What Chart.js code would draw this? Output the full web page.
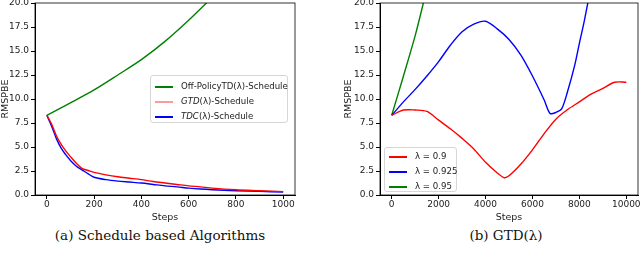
<!DOCTYPE html>
<html lang="en">
<head>
<meta charset="UTF-8">
<title>RMSPBE</title>
<script src="https://cdn.jsdelivr.net/npm/chart.js"></script>
<style>
    body { margin: 0; background: #fff; width: 640px; height: 266px; overflow: hidden; position: relative; font-family: "DejaVu Sans", sans-serif; }
    .plot { position: absolute; top: 0; height: 223px; }
    .caption { position: absolute; top: 227px; font-family: "DejaVu Serif", "Liberation Serif", serif; font-size: 13.5px; color: #111; text-align: center; }
    .legend { position: absolute; background: rgba(255,255,255,0.85); border: 1px solid #d6d6d6; border-radius: 3px; font-size: 8.6px; color: #222; padding: 3px 4px 2px 4px; box-sizing: border-box; }
    .legend div { height: 15px; line-height: 15px; white-space: nowrap; }
    .legend span.sw { display: inline-block; width: 18px; height: 2px; vertical-align: middle; margin-right: 8px; }
</style>
</head>
<body>
<div class="plot" style="left:0; width:300px;"><canvas id="chartA"></canvas></div>
<div class="plot" style="left:343px; width:297px;"><canvas id="chartB"></canvas></div>

<div class="legend" style="left:150px; top:75px; width:138px; height:48px;">
    <div><span class="sw" style="background:#008000"></span>Off-PolicyTD(λ)-Schedule</div>
    <div><span class="sw" style="background:#ff9a9a"></span><i>GTD</i>(λ)-Schedule</div>
    <div><span class="sw" style="background:#0000ff"></span><i>TDC</i>(λ)-Schedule</div>
</div>
<div class="legend" style="left:384px; top:147px; width:73px; height:45px; padding-top:1px;">
    <div><span class="sw" style="background:#ff0000"></span>λ = 0.9</div>
    <div><span class="sw" style="background:#0000ff"></span>λ = 0.925</div>
    <div><span class="sw" style="background:#008000"></span>λ = 0.95</div>
</div>

<div class="caption" style="left:40px; width:240px;">(a) Schedule based Algorithms</div>
<div class="caption" style="left:446px; width:120px;">(b) GTD(λ)</div>

<script>
// (a) schedule based algorithms
const offSteps = [0, 100, 200, 300, 400, 500, 600, 700];
const offValues = [8.3, 9.6, 10.95, 12.5, 14.1, 16.0, 18.2, 20.6];
const gtdSteps = [0, 20, 40, 60, 80, 100, 125, 150, 175, 200, 250, 300, 350, 400, 450, 500, 550, 600, 650, 700, 800, 900, 1000];
const gtdValues = [8.3, 7.4, 6.2, 5.3, 4.6, 4.0, 3.3, 2.75, 2.55, 2.35, 2.1, 1.9, 1.75, 1.6, 1.4, 1.25, 1.1, 0.95, 0.85, 0.72, 0.55, 0.45, 0.35];
const tdcSteps = gtdSteps;
const tdcValues = [8.3, 7.2, 5.9, 4.9, 4.2, 3.6, 3.0, 2.6, 2.2, 1.85, 1.6, 1.45, 1.35, 1.25, 1.1, 0.95, 0.85, 0.72, 0.62, 0.55, 0.45, 0.38, 0.3];

// (b) GTD(lambda)
const lam90Steps = [0, 500, 1000, 1500, 2000, 2500, 3000, 3500, 4000, 4500, 4800, 5000, 5500, 6000, 6500, 7000, 7500, 8000, 8500, 9000, 9500, 10000];
const lam90Values = [8.3, 8.85, 8.85, 8.7, 7.8, 6.9, 5.9, 4.8, 3.4, 2.3, 1.8, 2.0, 3.2, 4.7, 6.4, 7.9, 8.9, 9.7, 10.5, 11.1, 11.75, 11.75];
const lam925Steps = [0, 500, 1000, 1500, 2000, 2500, 3000, 3500, 4000, 4500, 5000, 5500, 6000, 6500, 6750, 7000, 7250, 7500, 7800, 8000, 8200, 8400];
const lam925Values = [8.3, 9.7, 11.0, 12.4, 13.9, 15.6, 17.0, 17.8, 18.1, 17.3, 16.2, 14.6, 12.4, 9.9, 8.5, 8.6, 9.0, 10.8, 13.5, 15.8, 18.0, 20.5];
const lam95Steps = [0, 500, 1000, 1400];
const lam95Values = [8.3, 12.4, 16.6, 20.5];

const yTicks = [0, 2.5, 5, 7.5, 10, 12.5, 15, 17.5, 20];

function pts(xs, ys) { return xs.map((x, i) => ({ x: x, y: ys[i] })); }

const frame = {
    id: 'frame',
    afterDraw(chart) {
        const a = chart.chartArea, c = chart.ctx;
        c.save();
        c.strokeStyle = '#000';
        c.lineWidth = 0.8;
        c.strokeRect(a.left, a.top, a.right - a.left, a.bottom - a.top);
        c.restore();
    }
};

function makeChart(id, datasets, xmin, xmax, xstep, yWidth, padRight) {
    return new Chart(document.getElementById(id), {
        type: 'line',
        data: { datasets: datasets },
        options: {
            responsive: true,
            maintainAspectRatio: false,
            animation: false,
            layout: { padding: { top: 3, right: padRight, left: 0, bottom: 0 } },
            elements: { point: { radius: 0 }, line: { borderWidth: 1.4, tension: 0.3 } },
            plugins: { legend: { display: false }, tooltip: { enabled: false } },
            scales: {
                x: {
                    type: 'linear', min: xmin, max: xmax,
                    afterBuildTicks: s => { s.ticks = []; for (let v = 0; v <= xmax; v += xstep) s.ticks.push({ value: v }); },
                    afterFit: s => { s.height = 28; s.paddingLeft = 0; s.paddingRight = 0; },
                    grid: { drawOnChartArea: false, tickLength: 4, color: '#000' },
                    border: { color: '#000' },
                    ticks: { color: '#222', font: { family: 'DejaVu Sans', size: 9 }, maxRotation: 0, padding: 0, callback: v => String(v) },
                    title: { display: true, text: 'Steps', color: '#222', font: { family: 'DejaVu Sans', size: 9.5 }, padding: { top: 0, bottom: 0 } }
                },
                y: {
                    min: 0, max: 20,
                    afterBuildTicks: s => { s.ticks = yTicks.map(v => ({ value: v })); },
                    afterFit: s => { s.width = yWidth; s.paddingTop = 0; s.paddingBottom = 0; },
                    grid: { drawOnChartArea: false, tickLength: 4, color: '#000' },
                    border: { color: '#000' },
                    ticks: { color: '#222', font: { family: 'DejaVu Sans', size: 9 }, padding: 2, callback: v => v.toFixed(1) },
                    title: { display: true, text: 'RMSPBE', color: '#222', font: { family: 'DejaVu Sans', size: 9.5 }, padding: { top: 0, bottom: 0 } }
                }
            }
        },
        plugins: [frame]
    });
}

makeChart('chartA', [
    { label: 'Off-PolicyTD(λ)-Schedule', data: pts(offSteps, offValues), borderColor: '#008000' },
    { label: 'GTD(λ)-Schedule', data: pts(gtdSteps, gtdValues), borderColor: '#ff0000' },
    { label: 'TDC(λ)-Schedule', data: pts(tdcSteps, tdcValues), borderColor: '#0000ff' }
], -50, 1050, 200, 35, 5);

makeChart('chartB', [
    { label: 'λ = 0.9', data: pts(lam90Steps, lam90Values), borderColor: '#ff0000' },
    { label: 'λ = 0.925', data: pts(lam925Steps, lam925Values), borderColor: '#0000ff' },
    { label: 'λ = 0.95', data: pts(lam95Steps, lam95Values), borderColor: '#008000' }
], -500, 10500, 2000, 37, 2);
</script>
</body>
</html>
